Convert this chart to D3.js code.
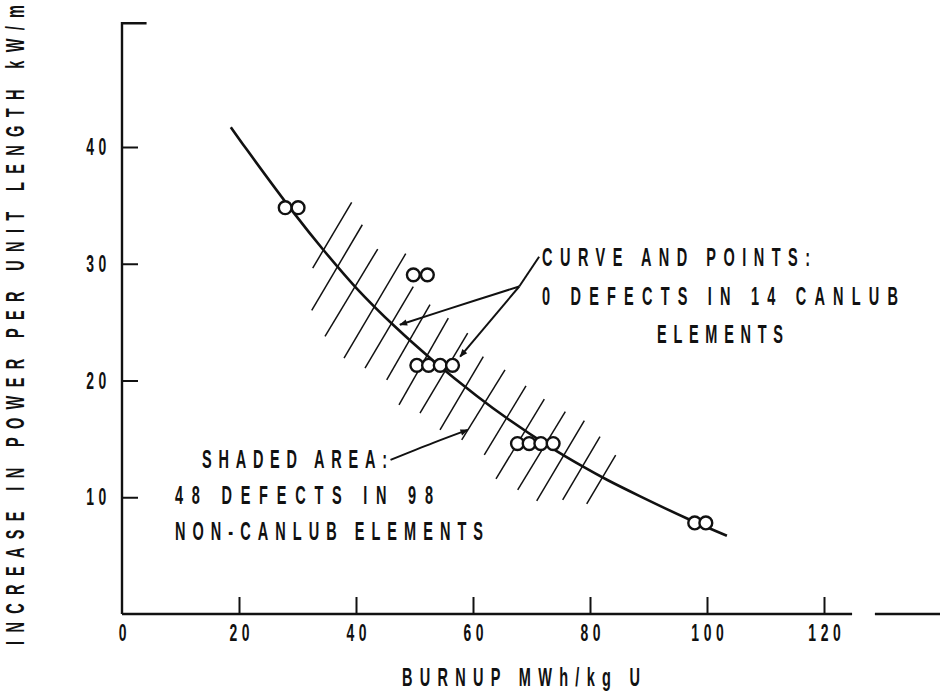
<!DOCTYPE html>
<html><head><meta charset="utf-8">
<script src="https://cdn.jsdelivr.net/npm/d3@7"></script>
<style>
html,body{margin:0;padding:0;background:#fff;}
svg{display:block;}
text{font-family:"Liberation Sans","Arimo","DejaVu Sans",sans-serif;fill:#111;font-weight:bold;}
</style></head><body>
<svg id="chart" width="940" height="692"></svg>
<script>
// ---- data ----
const xTicks = [0, 20, 40, 60, 80, 100, 120];
const yTicks = [10, 20, 30, 40];
const xTitle = "BURNUP MWh/kg U";
const yTitle = "INCREASE IN POWER PER UNIT LENGTH kW/m";

// fitted curve (0 defects in 14 CANLUB elements)
const curveX = [18.6, 21.3, 29.3, 34.4, 40.1, 46.7, 53.2, 60.6, 66.0, 73.2, 78.9, 82.9, 88.5, 96.5, 103.4];
const curveY = [41.7, 39.8, 34.4, 31.2, 27.9, 24.6, 21.7, 18.7, 16.7, 14.3, 12.6, 11.5, 10.1, 8.2, 6.7];

// CANLUB element points
const pointsX = [27.9, 30.1, 49.8, 52.2, 50.4, 52.4, 54.4, 56.5, 67.6, 69.6, 71.6, 73.7, 97.9, 99.8];
const pointsY = [34.8, 34.8, 29.05, 29.05, 21.3, 21.3, 21.3, 21.3, 14.6, 14.6, 14.6, 14.6, 7.8, 7.8];

// shaded area hatch strokes (upper end, lower end)
const hatchX1 = [39.26, 41.08, 43.71, 48.50, 49.79, 52.65, 55.78, 59.09, 61.76, 65.47, 69.06, 72.19, 75.78, 79.03, 81.71, 84.39];
const hatchY1 = [35.25, 33.34, 31.26, 30.86, 28.05, 26.49, 25.35, 24.06, 22.05, 20.91, 19.54, 18.40, 17.34, 16.57, 15.20, 13.60];
const hatchX2 = [32.60, 32.43, 34.70, 37.95, 41.54, 45.25, 47.35, 50.94, 54.36, 58.07, 61.93, 63.93, 67.64, 70.89, 75.33, 79.44];
const hatchY2 = [29.63, 26.00, 23.77, 21.92, 21.06, 20.06, 17.91, 17.20, 15.77, 14.91, 13.63, 11.57, 10.63, 9.69, 9.77, 9.43];

// annotation leader lines
const stemX = [71.3, 67.9];
const stemY = [30.6, 28.05];
const arrowCurveX = [67.9, 60.6, 47.5];
const arrowCurveY = [28.05, 26.9, 24.77];
const arrowPointsX = [67.9, 57.8];
const arrowPointsY = [28.05, 22.05];
const arrowShadeX = [45.9, 53.2, 59.1];
const arrowShadeY = [13.2, 14.66, 15.77];

const curveNote = ["CURVE AND POINTS:", "0 DEFECTS IN 14 CANLUB", "ELEMENTS"];
const shadeNote = ["SHADED AREA:", "48 DEFECTS IN 98", "NON-CANLUB ELEMENTS"];

// axis extents (data units)
const xAxisEnd = 124.8;
const xStub = [128.7, 140];
const yAxisTop = 50.6;
const yStubEnd = 4.2;

// ---- drawing ----
const svg = d3.select("#chart");
const x = d3.scaleLinear().domain([0, 120]).range([122, 824]);
const y = d3.scaleLinear().domain([0, 40]).range([614, 147]);
const ink = "#111";
const SX = 0.58; // condensed lettering
const FS = 25;

function label(px, py, str, len, size, rotate) {
  const g = svg.append("g").attr("transform",
    `translate(${px},${py})` + (rotate ? ` rotate(${rotate})` : "") + ` scale(${SX},1)`);
  g.append("text").attr("font-size", size)
    .attr("textLength", len / SX).attr("lengthAdjust", "spacing").text(str);
}

// axes lines
svg.append("line").attr("x1", x(0)).attr("x2", x(xAxisEnd)).attr("y1", y(0)).attr("y2", y(0))
  .attr("stroke", ink).attr("stroke-width", 2.4);
svg.append("line").attr("x1", x(xStub[0])).attr("x2", x(xStub[1])).attr("y1", y(0)).attr("y2", y(0))
  .attr("stroke", ink).attr("stroke-width", 2.4);
svg.append("path").attr("d", d3.line()([[x(0), y(0)], [x(0), y(yAxisTop)], [x(yStubEnd), y(yAxisTop)]]))
  .attr("fill", "none").attr("stroke", ink).attr("stroke-width", 2.4);

const gx = svg.append("g").attr("transform", `translate(0,${y(0)})`)
  .call(d3.axisBottom(x).tickValues(xTicks).tickSize(-17).tickPadding(10).tickFormat(d => d));
gx.select(".domain").remove();
gx.selectAll(".tick line").attr("stroke", ink).attr("stroke-width", 2).filter(d => d === 0).remove();
gx.selectAll(".tick text").attr("font-size", 24).attr("font-family", null).attr("fill", ink)
  .attr("letter-spacing", 8).attr("dx", 4).attr("transform", `scale(${SX},1)`);

const gy = svg.append("g").attr("transform", `translate(${x(0)},0)`)
  .call(d3.axisLeft(y).tickValues(yTicks).tickSize(-16).tickPadding(11 / SX).tickFormat(d => d));
gy.select(".domain").remove();
gy.selectAll(".tick line").attr("stroke", ink).attr("stroke-width", 2);
gy.selectAll(".tick text").attr("font-size", 24).attr("font-family", null).attr("fill", ink)
  .attr("letter-spacing", 8).attr("transform", `scale(${SX},1)`);

// axis titles
label(402, 686, xTitle, 238, FS);
label(24, 645, yTitle, 640, FS, -90);

// hatching
const hatch = d3.range(hatchX1.length);
svg.append("g").selectAll("line").data(hatch).join("line")
  .attr("x1", i => x(hatchX1[i])).attr("y1", i => y(hatchY1[i]))
  .attr("x2", i => x(hatchX2[i])).attr("y2", i => y(hatchY2[i]))
  .attr("stroke", ink).attr("stroke-width", 1.5);

// curve
const line = d3.line().x(d => x(d[0])).y(d => y(d[1])).curve(d3.curveCatmullRom.alpha(0.5));
svg.append("path").datum(d3.zip(curveX, curveY)).attr("d", line)
  .attr("fill", "none").attr("stroke", ink).attr("stroke-width", 2.6);

// points
svg.append("g").selectAll("circle").data(d3.zip(pointsX, pointsY)).join("circle")
  .attr("cx", d => x(d[0])).attr("cy", d => y(d[1])).attr("r", 6.4)
  .attr("fill", "#fff").attr("stroke", ink).attr("stroke-width", 2.4);

// arrow markers
svg.append("defs").append("marker").attr("id", "ah").attr("viewBox", "0 0 10 10")
  .attr("refX", 9).attr("refY", 5).attr("markerWidth", 11).attr("markerHeight", 8)
  .attr("markerUnits", "userSpaceOnUse").attr("orient", "auto")
  .append("path").attr("d", "M0,1 L10,5 L0,9 Z").attr("fill", ink);

svg.append("path").datum(d3.zip(stemX, stemY)).attr("d", line)
  .attr("fill", "none").attr("stroke", ink).attr("stroke-width", 2);
[[arrowCurveX, arrowCurveY], [arrowPointsX, arrowPointsY], [arrowShadeX, arrowShadeY]].forEach(([ax, ay]) => {
  svg.append("path").datum(d3.zip(ax, ay)).attr("d", line)
    .attr("fill", "none").attr("stroke", ink).attr("stroke-width", 2).attr("marker-end", "url(#ah)");
});

// annotations
const curveLayout = [[542, 266, 268], [542, 305, 356], [657, 343, 126]];
curveNote.forEach((t, i) => label(curveLayout[i][0], curveLayout[i][1], t, curveLayout[i][2], FS));
const shadeLayout = [[202, 468, 185], [175, 504, 258], [175, 540, 308]];
shadeNote.forEach((t, i) => label(shadeLayout[i][0], shadeLayout[i][1], t, shadeLayout[i][2], FS));
</script>
</body></html>
